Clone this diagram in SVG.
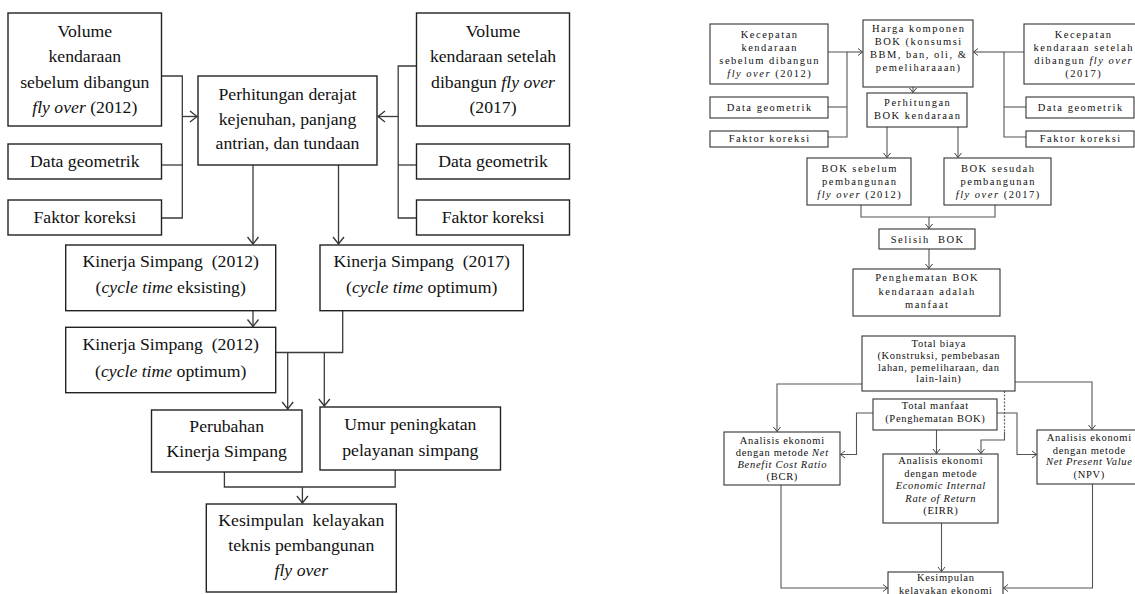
<svg xmlns="http://www.w3.org/2000/svg" width="1135" height="594" viewBox="0 0 1135 594">
<style>
.bx{fill:#fff;stroke:#222;stroke-width:1.4}
.bs{fill:#fff;stroke:#333;stroke-width:1.1}
text{font-family:'Liberation Serif','Tinos','DejaVu Serif',serif;fill:#111;text-anchor:middle}
.t{font-size:17.7px}
.s{font-size:10.5px;letter-spacing:1.5px}
.u{font-size:10.5px;letter-spacing:0.7px}
.i{font-style:italic}
.c{fill:none;stroke:#3a3a3a;stroke-width:1.3}
.cs{fill:none;stroke:#555;stroke-width:1.1}
.d{fill:none;stroke:#666;stroke-width:1.2;stroke-dasharray:2 1.5}
</style>
<defs>
<marker id="a" viewBox="-9 -7 10 14" refX="0" refY="0" markerWidth="10" markerHeight="14" markerUnits="userSpaceOnUse" orient="auto">
<path d="M-7,-5.5 L0,0 L-7,5.5" fill="none" stroke="#333" stroke-width="1.3"/>
</marker>
<marker id="b" viewBox="-6 -5 7 10" refX="0" refY="0" markerWidth="7" markerHeight="10" markerUnits="userSpaceOnUse" orient="auto">
<path d="M-4.5,-3.5 L0,0 L-4.5,3.5" fill="none" stroke="#444" stroke-width="1"/>
</marker>
</defs>

<g id="connectors">
<path class="c" d="M161.5,76 H182.3 V218 H161.5"/>
<path class="c" d="M161.5,165 H182.3"/>
<path class="c" d="M182.3,116.5 H197" marker-end="url(#a)"/>
<path class="c" d="M416.5,66 H398.2 V218 H416.5"/>
<path class="c" d="M398.2,165 H416.5"/>
<path class="c" d="M398.2,116.5 H378" marker-end="url(#a)"/>
<path class="c" d="M253,165 V244" marker-end="url(#a)"/>
<path class="c" d="M338.5,165 V244" marker-end="url(#a)"/>
<path class="c" d="M253,310.7 V326.5" marker-end="url(#a)"/>
<path class="c" d="M342.7,310.7 V352.5 H275.7"/>
<path class="c" d="M287.7,352.5 V409" marker-end="url(#a)"/>
<path class="c" d="M324.3,352.5 V406" marker-end="url(#a)"/>
<path class="c" d="M224.4,472 V487 H395.2 V470"/>
<path class="c" d="M302.4,487 V503" marker-end="url(#a)"/>

<path class="cs" d="M828,52 H847 V137 H828"/>
<path class="cs" d="M828,107 H847"/>
<path class="cs" d="M847,52 H862.5" marker-end="url(#b)"/>
<path class="cs" d="M1024,52 H1004 V137 H1026"/>
<path class="cs" d="M1004,107 H1026"/>
<path class="cs" d="M1004,52 H973.5" marker-end="url(#b)"/>
<path class="cs" d="M913,87 V92.5" marker-end="url(#b)"/>
<path class="cs" d="M887,127 V157.5" marker-end="url(#b)"/>
<path class="cs" d="M958,127 V157.5" marker-end="url(#b)"/>
<path class="cs" d="M861,205 V217 H995 V205"/>
<path class="cs" d="M929,217 V228.5" marker-end="url(#b)"/>
<path class="cs" d="M929,249 V268.5" marker-end="url(#b)"/>
<path class="cs" d="M862,384 H777 V431.5" marker-end="url(#b)"/>
<path class="cs" d="M1015,382 H1092 V429.5" marker-end="url(#b)"/>
<path class="d" d="M1004.5,391 V432"/>
<path class="cs" d="M1004.5,432 V440 H981 V453.5" marker-end="url(#b)"/>
<path class="cs" d="M873,413 H856.5 V454.5 H840.5" marker-end="url(#b)"/>
<path class="cs" d="M997,413 H1017 V454.5 H1036.5" marker-end="url(#b)"/>
<path class="cs" d="M936.5,430 V453.5" marker-end="url(#b)"/>
<path class="cs" d="M781,485 V588 H887.5" marker-end="url(#b)"/>
<path class="cs" d="M941.5,523 V571.5" marker-end="url(#b)"/>
<path class="cs" d="M1092.5,484 V588 H1003.5" marker-end="url(#b)"/>
</g>

<g id="l-vol-before">
<rect class="bx" x="8" y="13" width="153.5" height="113"/>
<text class="t" x="84.8" y="36.5">Volume</text>
<text class="t" x="84.8" y="62">kendaraan</text>
<text class="t" x="84.8" y="87.5">sebelum dibangun</text>
<text class="t" x="84.8" y="113"><tspan class="i">fly over</tspan> (2012)</text>
</g>
<g id="l-geo-left">
<rect class="bx" x="8" y="144" width="153.5" height="35"/>
<text class="t" x="84.8" y="166.5">Data geometrik</text>
</g>
<g id="l-fak-left">
<rect class="bx" x="8" y="200" width="153.5" height="35"/>
<text class="t" x="84.8" y="222.5">Faktor koreksi</text>
</g>
<g id="l-perhitungan">
<rect class="bx" x="198" y="76" width="179" height="89"/>
<text class="t" x="287.5" y="100">Perhitungan derajat</text>
<text class="t" x="287.5" y="124.5">kejenuhan, panjang</text>
<text class="t" x="287.5" y="149">antrian, dan tundaan</text>
</g>
<g id="l-vol-after">
<rect class="bx" x="416.5" y="13" width="153" height="113"/>
<text class="t" x="493" y="36.5">Volume</text>
<text class="t" x="493" y="62">kendaraan setelah</text>
<text class="t" x="493" y="87.5">dibangun <tspan class="i">fly over</tspan></text>
<text class="t" x="493" y="113">(2017)</text>
</g>
<g id="l-geo-right">
<rect class="bx" x="416.5" y="144" width="153" height="35"/>
<text class="t" x="493" y="166.5">Data geometrik</text>
</g>
<g id="l-fak-right">
<rect class="bx" x="416.5" y="200" width="153" height="35"/>
<text class="t" x="493" y="222.5">Faktor koreksi</text>
</g>
<g id="l-kinerja-2012">
<rect class="bx" x="65.7" y="245" width="210" height="65.7"/>
<text class="t" x="170.7" y="267.3" xml:space="preserve">Kinerja Simpang  (2012)</text>
<text class="t" x="170.7" y="293.3">(<tspan class="i">cycle time</tspan> eksisting)</text>
</g>
<g id="l-kinerja-2017">
<rect class="bx" x="320" y="245" width="203.3" height="65.7"/>
<text class="t" x="421.7" y="267.3" xml:space="preserve">Kinerja Simpang  (2017)</text>
<text class="t" x="421.7" y="293.3">(<tspan class="i">cycle time</tspan> optimum)</text>
</g>
<g id="l-kinerja-2012-opt">
<rect class="bx" x="65.7" y="327.3" width="210" height="65.4"/>
<text class="t" x="170.7" y="350" xml:space="preserve">Kinerja Simpang  (2012)</text>
<text class="t" x="170.7" y="376.5">(<tspan class="i">cycle time</tspan> optimum)</text>
</g>
<g id="l-perubahan">
<rect class="bx" x="151.5" y="410" width="150.5" height="62"/>
<text class="t" x="226.7" y="431.5">Perubahan</text>
<text class="t" x="226.7" y="456.5">Kinerja Simpang</text>
</g>
<g id="l-umur">
<rect class="bx" x="320" y="407" width="180.5" height="63"/>
<text class="t" x="410.3" y="430">Umur peningkatan</text>
<text class="t" x="410.3" y="455.5">pelayanan simpang</text>
</g>
<g id="l-kesimpulan">
<rect class="bx" x="206.3" y="504" width="190" height="88"/>
<text class="t" x="301.3" y="526" xml:space="preserve">Kesimpulan  kelayakan</text>
<text class="t" x="301.3" y="550.5">teknis pembangunan</text>
<text class="t" x="301.3" y="576"><tspan class="i">fly over</tspan></text>
</g>

<g id="r-kec-before">
<rect class="bs" x="710" y="24" width="118" height="60"/>
<text class="s" x="769.7" y="37.5">Kecepatan</text>
<text class="s" x="769.7" y="50.5">kendaraan</text>
<text class="s" x="769.7" y="63.5">sebelum dibangun</text>
<text class="s" x="769.7" y="76.5"><tspan class="i">fly over</tspan> (2012)</text>
</g>
<g id="r-harga">
<rect class="bs" x="863" y="20" width="110" height="67"/>
<text class="s" x="918.7" y="32">Harga komponen</text>
<text class="s" x="918.7" y="45">BOK (konsumsi</text>
<text class="s" x="918.7" y="58">BBM, ban, oli, &amp;</text>
<text class="s" x="918.7" y="71">pemeliharaaan)</text>
</g>
<g id="r-kec-after">
<rect class="bs" x="1024" y="24" width="118" height="60"/>
<text class="s" x="1083.7" y="37.5">Kecepatan</text>
<text class="s" x="1083.7" y="50.5">kendaraan setelah</text>
<text class="s" x="1083.7" y="63.5">dibangun <tspan class="i">fly over</tspan></text>
<text class="s" x="1083.7" y="76.5">(2017)</text>
</g>
<g id="r-geo-left">
<rect class="bs" x="710" y="97" width="118" height="21"/>
<text class="s" x="769.7" y="110.5">Data geometrik</text>
</g>
<g id="r-fak-left">
<rect class="bs" x="710" y="131" width="118" height="16"/>
<text class="s" x="769.7" y="142">Faktor koreksi</text>
</g>
<g id="r-perhitungan">
<rect class="bs" x="867" y="93" width="100" height="34"/>
<text class="s" x="917.7" y="106">Perhitungan</text>
<text class="s" x="917.7" y="119">BOK kendaraan</text>
</g>
<g id="r-geo-right">
<rect class="bs" x="1026" y="97" width="108" height="21"/>
<text class="s" x="1080.7" y="110.5">Data geometrik</text>
</g>
<g id="r-fak-right">
<rect class="bs" x="1026" y="131" width="108" height="16"/>
<text class="s" x="1080.7" y="142">Faktor koreksi</text>
</g>
<g id="r-bok-before">
<rect class="bs" x="807" y="158" width="104" height="47"/>
<text class="s" x="859.7" y="171.5">BOK sebelum</text>
<text class="s" x="859.7" y="184.5">pembangunan</text>
<text class="s" x="859.7" y="197.5"><tspan class="i">fly over</tspan> (2012)</text>
</g>
<g id="r-bok-after">
<rect class="bs" x="944" y="158" width="107" height="47"/>
<text class="s" x="998.2" y="171.5">BOK sesudah</text>
<text class="s" x="998.2" y="184.5">pembangunan</text>
<text class="s" x="998.2" y="197.5"><tspan class="i">fly over</tspan> (2017)</text>
</g>
<g id="r-selisih">
<rect class="bs" x="879" y="229" width="96" height="20"/>
<text class="s" x="927.7" y="242.5" xml:space="preserve">Selisih  BOK</text>
</g>
<g id="r-penghematan">
<rect class="bs" x="853" y="269" width="147" height="47"/>
<text class="s" x="927.2" y="281">Penghematan BOK</text>
<text class="s" x="927.2" y="294.5">kendaraan adalah</text>
<text class="s" x="927.2" y="307.5">manfaat</text>
</g>
<g id="r-total-biaya">
<rect class="bs" x="862" y="336" width="153" height="55"/>
<text class="u" x="938.8" y="347">Total biaya</text>
<text class="u" x="938.8" y="359">(Konstruksi, pembebasan</text>
<text class="u" x="938.8" y="370.5">lahan, pemeliharaan, dan</text>
<text class="u" x="938.8" y="382">lain-lain)</text>
</g>
<g id="r-total-manfaat">
<rect class="bs" x="873" y="399" width="124" height="31"/>
<text class="u" x="935.3" y="408.5">Total manfaat</text>
<text class="u" x="935.3" y="421.5">(Penghematan BOK)</text>
</g>
<g id="r-bcr">
<rect class="bs" x="724" y="432" width="116" height="53"/>
<text class="u" x="782.3" y="443.5">Analisis ekonomi</text>
<text class="u" x="782.3" y="456">dengan metode <tspan class="i">Net</tspan></text>
<text class="u" x="782.3" y="467.5"><tspan class="i">Benefit Cost Ratio</tspan></text>
<text class="u" x="782.3" y="479.5">(BCR)</text>
</g>
<g id="r-eirr">
<rect class="bs" x="883" y="454" width="115" height="69"/>
<text class="u" x="940.8" y="463.5">Analisis ekonomi</text>
<text class="u" x="940.8" y="476.5">dengan metode</text>
<text class="u" x="940.8" y="489"><tspan class="i">Economic Internal</tspan></text>
<text class="u" x="940.8" y="501.5"><tspan class="i">Rate of Return</tspan></text>
<text class="u" x="940.8" y="513.5">(EIRR)</text>
</g>
<g id="r-npv">
<rect class="bs" x="1037" y="430" width="104" height="54"/>
<text class="u" x="1089.3" y="441">Analisis ekonomi</text>
<text class="u" x="1089.3" y="453.5">dengan metode</text>
<text class="u" x="1089.3" y="465"><tspan class="i">Net Present Value</tspan></text>
<text class="u" x="1089.3" y="477.5">(NPV)</text>
</g>
<g id="r-kesimpulan">
<rect class="bs" x="888" y="572" width="115" height="30"/>
<text class="u" x="945.8" y="581">Kesimpulan</text>
<text class="u" x="945.8" y="593.5">kelayakan ekonomi</text>
</g>
</svg>
